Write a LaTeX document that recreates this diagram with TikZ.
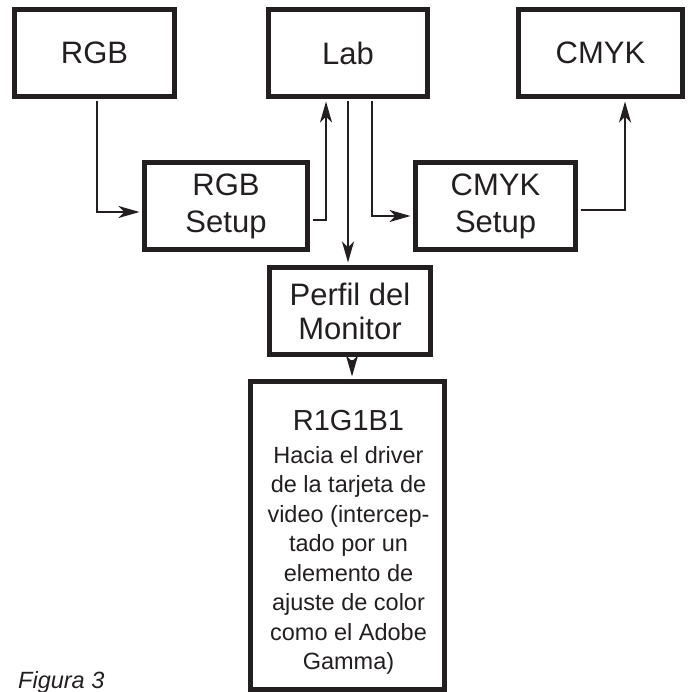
\documentclass[tikz,border=0pt]{standalone}
\usepackage{fontspec}
\setmainfont{Liberation Sans}
\usetikzlibrary{arrows.meta}
\definecolor{ink}{RGB}{35,31,32}
\tikzset{
  boxnode/.style={draw=ink, line width=5pt, inner sep=0pt, align=center,
    text=ink, font=\fontsize{31}{35}\selectfont},
  arr/.style={draw=ink, line width=2pt,
    -{Stealth[length=21pt,width=12pt,inset=6pt]},
    shorten >=2.5pt, shorten <=2.5pt},
}
\begin{document}
\begin{tikzpicture}[x=1pt,y=-1pt]
\useasboundingbox (0,0) rectangle (687,692);
\node[boxnode, minimum width=160pt, minimum height=87pt] (rgb) at (94.5,53) {RGB};
\node[boxnode, minimum width=159pt, minimum height=87pt] (lab) at (348,53) {Lab};
\node[boxnode, minimum width=164pt, minimum height=87pt] (cmyk) at (600.5,53) {CMYK};
\node[boxnode, minimum width=163pt, minimum height=87pt,
  font=\fontsize{31}{37}\selectfont] (rgbs) at (226,206) {RGB\\Setup};
\node[boxnode, minimum width=160pt, minimum height=87pt,
  font=\fontsize{31}{37}\selectfont] (cmyks) at (495.5,206) {CMYK\\Setup};
\node[boxnode, minimum width=161pt, minimum height=87pt,
  font=\fontsize{31}{34}\selectfont] (perfil) at (350,311) {Perfil del\\Monitor};
\node[boxnode, minimum width=194pt, minimum height=308pt] (out) at (347.5,535.5) {};
\node[anchor=north, inner sep=0pt, align=center, text=ink,
  font=\fontsize{23.5}{29.5}\selectfont] (outtxt) at (348.5,410)
  {{\fontsize{29}{29.5}\selectfont R1G1B1}\\[3.5pt]
   Hacia el driver\\
   de la tarjeta de\\
   video (intercep-\\
   tado por un\\
   elemento de\\
   ajuste de color\\
   como el Adobe\\
   Gamma)};
\node[anchor=base west, inner sep=0pt, text=ink,
  font=\fontsize{23.5}{28}\selectfont\itshape] (fig) at (18,688) {Figura 3};
\draw[arr] ([xshift=2.5pt]rgb.south) |- ([yshift=-6pt]rgbs.west);
\draw[arr] ([yshift=-14pt]rgbs.east) -| ([xshift=-22pt]lab.south);
\draw[arr] (lab.south) -- (lab.south |- perfil.north);
\draw[arr] ([xshift=24pt]lab.south) |- ([yshift=-10pt]cmyks.west);
\draw[arr] ([yshift=-4pt]cmyks.east) -| ([xshift=24.5pt]cmyk.south);
\draw[arr] ([xshift=2pt]perfil.south) -- ([xshift=2pt]perfil.south |- out.north);
\end{tikzpicture}
\end{document}
